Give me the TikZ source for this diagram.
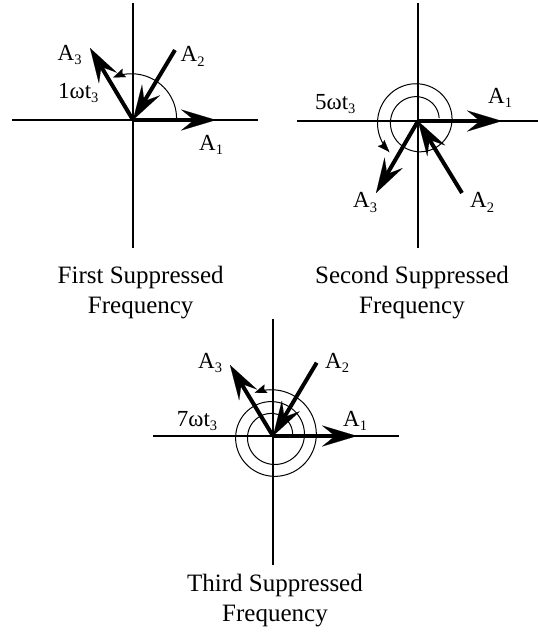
\documentclass[tikz,border=0pt]{standalone}
\usepackage{fontspec}
\setmainfont{Liberation Serif}
\usetikzlibrary{arrows.meta}
\newcommand\vsub[1]{\raisebox{-4.5pt}{\fontsize{14.5pt}{14.5pt}\selectfont #1}}
\begin{document}
\begin{tikzpicture}[x=1pt,y=-1pt,
  axis/.style={line width=1.2pt},
  vec/.style={line width=4pt, -{Stealth[length=35pt,width=21pt,inset=13pt,line width=0.1pt]}},
  turn/.style={line width=1pt, -{Stealth[length=12pt,width=9pt,inset=2pt,line width=0.1pt]}},
  lbl/.style={inner sep=0pt, anchor=base west, font=\fontsize{23pt}{27pt}\selectfont},
  captext/.style={inner sep=0pt, anchor=base, font=\fontsize{25pt}{30pt}\selectfont}]
\useasboundingbox (0,0) rectangle (538,632);

% ---------- First diagram ----------
\coordinate (O1) at (133,120);
\coordinate (h1l) at (12,120);  \coordinate (h1r) at (258,120);
\coordinate (v1t) at (133,3);   \coordinate (v1b) at (133,248);
\coordinate (a1e) at (216,120);
\coordinate (a2s) at (175,50);
\coordinate (a3e) at (90,48);
\draw[axis] (h1l) -- (h1r);
\draw[axis] (v1t) -- (v1b);
\draw[turn] plot[domain=0:115, samples=60, smooth] ({133+cos(\x)*(43.5+\x*0.03)}, {120-sin(\x)*(43.5+\x*0.03)});
\draw[vec] (O1) -- (a1e);
\draw[vec] (a2s) -- (O1);
\draw[vec] (O1) -- (a3e);
\node[lbl] (l1a3) at (57.5,60) {A\vsub{3}};
\node[lbl] (l1a2) at (180.5,61.5) {A\vsub{2}};
\node[lbl] (l1a1) at (199,150) {A\vsub{1}};
\node[lbl] (l1w) at (58,98) {1ωt\vsub{3}};
\node[captext] (c1a) at (140.7,283) {First Suppressed};
\node[captext] (c1b) at (140.7,313.5) {Frequency};

% ---------- Second diagram ----------
\coordinate (O2) at (418,121);
\coordinate (h2l) at (297,121); \coordinate (h2r) at (538,121);
\coordinate (v2t) at (418,3);   \coordinate (v2b) at (418,248);
\coordinate (b1e) at (502,121);
\coordinate (b2s) at (462,193);
\coordinate (b3e) at (376,193);
\draw[axis] (h2l) -- (h2r);
\draw[axis] (v2t) -- (v2b);
\draw[turn] plot[domain=8:587, samples=200, smooth] ({418+cos(\x)*(21+\x*0.036)}, {121-sin(\x)*(21+\x*0.036)});
\draw[vec] (O2) -- (b1e);
\draw[vec] (b2s) -- (O2);
\draw[vec] (O2) -- (b3e);
\node[lbl] (l2a1) at (488,103) {A\vsub{1}};
\node[lbl] (l2a2) at (470,207.5) {A\vsub{2}};
\node[lbl] (l2a3) at (353,207.5) {A\vsub{3}};
\node[lbl] (l2w) at (315,109) {5ωt\vsub{3}};
\node[captext] (c2a) at (412,283) {Second Suppressed};
\node[captext] (c2b) at (412,313.5) {Frequency};

% ---------- Third diagram ----------
\coordinate (O3) at (273,436);
\coordinate (h3l) at (153,436); \coordinate (h3r) at (399,436);
\coordinate (v3t) at (273,319); \coordinate (v3b) at (273,565);
\coordinate (c1e) at (357,436);
\coordinate (c2s) at (316.7,362.7);
\coordinate (c3e) at (230,365);
\draw[axis] (h3l) -- (h3r);
\draw[axis] (v3t) -- (v3b);
\draw[turn] plot[domain=0:833, samples=260, smooth] ({273+cos(\x)*(19.5+\x*0.033)}, {436-sin(\x)*(19.5+\x*0.033)});
\draw[vec] (O3) -- (c1e);
\draw[vec] (c2s) -- (O3);
\draw[vec] (O3) -- (c3e);
\node[lbl] (l3a3) at (198,368) {A\vsub{3}};
\node[lbl] (l3a2) at (325,368) {A\vsub{2}};
\node[lbl] (l3a1) at (343,426) {A\vsub{1}};
\node[lbl] (l3w) at (176.7,426) {7ωt\vsub{3}};
\node[captext] (c3a) at (275,591.7) {Third Suppressed};
\node[captext] (c3b) at (275,621.7) {Frequency};
\end{tikzpicture}
\end{document}
